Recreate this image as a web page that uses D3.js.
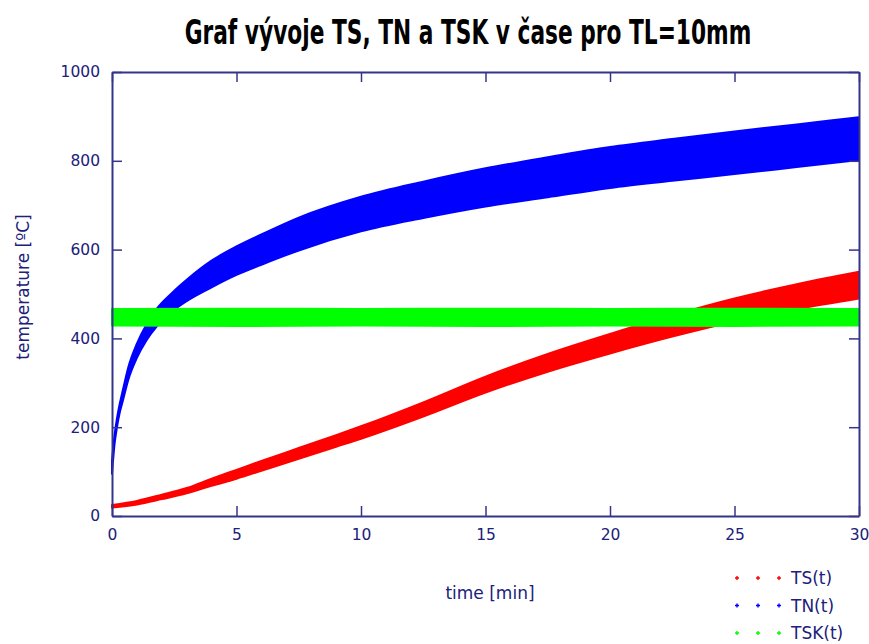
<!DOCTYPE html>
<html>
<head>
<meta charset="utf-8">
<script src="https://cdn.jsdelivr.net/npm/d3@7"></script>
<style>
  html, body { margin: 0; padding: 0; background: #fff; }
  svg { display: block; }
</style>
</head>
<body>
<svg id="chart" width="869" height="644"></svg>
<script>
// ---- data ----
const title = "Graf vývoje TS, TN a TSK v čase pro TL=10mm";
const xTicks = [0, 5, 10, 15, 20, 25, 30];
const yTicks = [0, 200, 400, 600, 800, 1000];
const seriesNames = ["TS(t)", "TN(t)", "TSK(t)"];

// TS(t): lower / upper edge of the point cloud
const tsTime = [0, 1, 2, 3, 4, 5, 6, 7.5, 9, 10, 12.5, 15, 17.5, 20, 22.5, 25, 27.5, 30];
const tsLow  = [19, 26, 38, 51, 68, 84, 102, 129, 156, 174, 224, 278, 325, 366, 404, 438, 466, 490];
const tsHigh = [25, 34, 48, 63, 84, 104, 124, 153, 182, 202, 256, 314, 365, 410, 452, 490, 522, 550];

// TN(t)
const tnTime = [0, 0.1, 0.2, 0.3, 0.45, 0.65, 1.0, 1.4, 1.8, 2.4, 3.0, 4.0, 5, 6, 7.5, 10, 12.5, 15, 17.5, 20, 22.5, 25, 27.5, 30];
const tnLow  = [95, 161, 200, 230, 263, 306, 356, 397, 427, 460, 484, 515, 543, 566, 598, 641, 671, 697, 718, 739, 755, 770, 786, 802];
const tnHigh = [125, 181, 220, 250, 287, 334, 388, 433, 467, 502, 532, 575, 607, 634, 672, 719, 753, 783, 808, 831, 849, 866, 882, 898];

// TSK(t)
const tskTime = [0, 5, 10, 15, 20, 25, 30];
const tskLow  = [429, 428, 429, 428, 429, 428, 429];
const tskHigh = [466, 467, 466, 467, 466, 467, 466];

const colors = ["#ff0000", "#0000ff", "#00ff00"];

// ---- layout ----
const svg = d3.select("#chart");
const axisColor = "#34348c";
const textColor = "#20207a";
const L = 112, R = 859, T = 72, B = 516;

const x = d3.scaleLinear().domain([0, 30]).range([L, R]);
const y = d3.scaleLinear().domain([0, 1000]).range([B, T]);

const titleEl = svg.append("text")
  .attr("text-anchor", "middle")
  .attr("font-family", "'DejaVu Sans', sans-serif")
  .attr("font-weight", "bold")
  .attr("font-size", 33)
  .attr("fill", "#000")
  .text(title);
// condense the title horizontally to the reference width (~567px)
const natW = titleEl.node().getComputedTextLength();
const sx = natW > 0 ? Math.min(1, 567 / natW) : 0.75;
titleEl.attr("transform", `translate(468,44) scale(${sx},1)`);

// ---- series bands ----
function band(times, low, high) {
  return times.map((t, i) => ({ t, lo: low[i], hi: high[i] }));
}
const series = [
  band(tsTime, tsLow, tsHigh),
  band(tnTime, tnLow, tnHigh),
  band(tskTime, tskLow, tskHigh)
];
const area = d3.area()
  .x(d => x(d.t)).y0(d => y(d.lo)).y1(d => y(d.hi))
  .curve(d3.curveMonotoneX);

const plot = svg.append("g");
series.forEach((s, i) => {
  plot.append("path")
    .datum(s)
    .attr("d", area)
    .attr("fill", colors[i])
    .attr("stroke", colors[i])
    .attr("stroke-width", 2)
    .attr("stroke-linejoin", "round");
});

// ---- axes ----
const font = "'DejaVu Sans', Verdana, sans-serif";
const axesG = svg.append("g");
const tick = 10;

const axBottom = axesG.append("g").attr("transform", `translate(0,${B})`)
  .call(d3.axisBottom(x).tickValues(xTicks).tickSizeInner(-tick).tickSizeOuter(0).tickPadding(13).tickFormat(d3.format("d")));
const axTop = axesG.append("g").attr("transform", `translate(0,${T})`)
  .call(d3.axisTop(x).tickValues(xTicks).tickSizeInner(-tick).tickSizeOuter(0).tickFormat(""));
const axLeft = axesG.append("g").attr("transform", `translate(${L},0)`)
  .call(d3.axisLeft(y).tickValues(yTicks).tickSizeInner(-tick).tickSizeOuter(0).tickPadding(12).tickFormat(d3.format("d")));
const axRight = axesG.append("g").attr("transform", `translate(${R},0)`)
  .call(d3.axisRight(y).tickValues(yTicks).tickSizeInner(-tick).tickSizeOuter(0).tickFormat(""));

[axBottom, axTop, axLeft, axRight].forEach(a => {
  a.select(".domain").attr("stroke", axisColor).attr("stroke-width", 2);
  a.selectAll(".tick line").attr("stroke", axisColor).attr("stroke-width", 1.5);
  a.selectAll("text").attr("fill", textColor).attr("font-family", font).attr("font-size", 15.5);
});

// axis titles
svg.append("text")
  .attr("x", 490).attr("y", 599)
  .attr("text-anchor", "middle")
  .attr("font-family", font).attr("font-size", 17)
  .attr("fill", textColor)
  .text("time [min]");
svg.append("text")
  .attr("transform", "translate(29,287) rotate(-90)")
  .attr("text-anchor", "middle")
  .attr("font-family", font).attr("font-size", 17)
  .attr("fill", textColor)
  .text("temperature [ºC]");

// ---- legend ----
const legend = svg.append("g");
const legendY = d3.scalePoint().domain(seriesNames).range([578, 633]);
const symX = [737, 758, 779];
seriesNames.forEach((name, i) => {
  const yy = legendY(name);
  symX.forEach(px => {
    legend.append("path")
      .attr("d", `M${px - 2},${yy}H${px + 2}M${px},${yy - 2}V${yy + 2}`)
      .attr("stroke", colors[i]).attr("stroke-width", 1.4);
  });
  legend.append("text")
    .attr("x", 791).attr("y", yy + 6)
    .attr("font-family", font).attr("font-size", 17)
    .attr("fill", textColor)
    .text(name);
});
</script>
</body>
</html>
